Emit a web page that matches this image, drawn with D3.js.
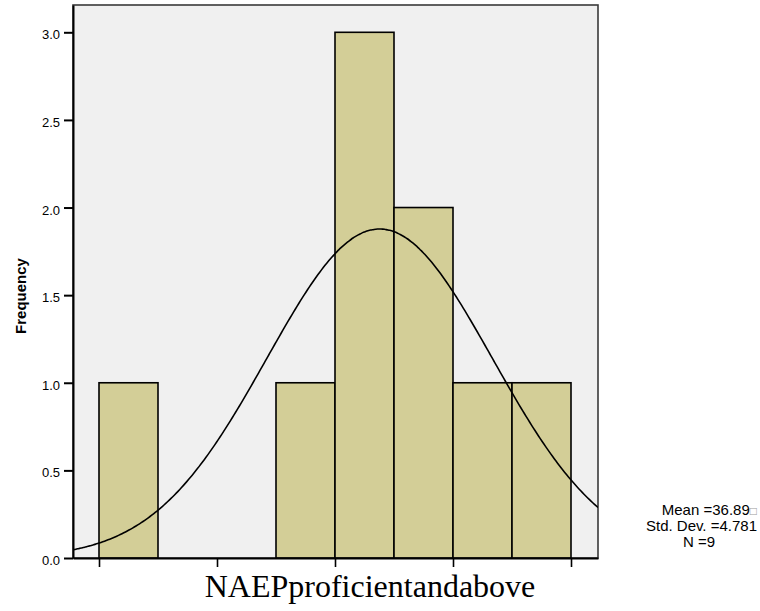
<!DOCTYPE html>
<html>
<head>
<meta charset="utf-8">
<script src="https://cdn.jsdelivr.net/npm/d3@7"></script>
<style>
  html, body { margin: 0; padding: 0; background: #ffffff; }
  svg { display: block; }
</style>
</head>
<body>
<svg id="chart" width="760" height="611"></svg>
<script>
// ---- data ----
const binEdges = [25, 27.5, 30, 32.5, 35, 37.5, 40, 42.5, 45];
const counts = [1, 0, 0, 1, 3, 2, 1, 1];
const yTicks = [0, 0.5, 1.0, 1.5, 2.0, 2.5, 3.0];
const xTicks = [25, 30, 35, 40, 45];
const statMean = 36.89;
const statSD = 4.781;
const statN = 9;
const legendLines = ["Mean =36.89", "Std. Dev. =4.781", "N =9"];
const xTitle = "NAEPproficientandabove";
const yTitle = "Frequency";

// ---- layout ----
const frame = { left: 73, right: 598, top: 5, bottom: 558 };
const svg = d3.select("#chart");

const x = d3.scaleLinear().domain([25, 45]).range([99, 571]);
const y = d3.scaleLinear().domain([0, 3]).range([558, 32.3]);
const xMin = x.invert(frame.left), xMax = x.invert(frame.right);
const yMax = y.invert(frame.top);

// background frame
svg.append("rect")
  .attr("x", frame.left).attr("y", frame.top)
  .attr("width", frame.right - frame.left).attr("height", frame.bottom - frame.top)
  .attr("fill", "#f0f0f0").attr("stroke", "#3a3a3a").attr("stroke-width", 1.6);

const defs = svg.append("defs");
defs.append("clipPath").attr("id", "clip").append("rect")
  .attr("x", frame.left).attr("y", frame.top)
  .attr("width", frame.right - frame.left).attr("height", frame.bottom - frame.top);

// bars
const bins = counts.map((c, i) => ({ x0: binEdges[i], x1: binEdges[i + 1], c }));
svg.append("g").selectAll("rect").data(bins.filter(d => d.c > 0)).join("rect")
  .attr("x", d => x(d.x0)).attr("y", d => y(d.c))
  .attr("width", d => x(d.x1) - x(d.x0)).attr("height", d => y(0) - y(d.c))
  .attr("fill", "#d3ce97").attr("stroke", "#000").attr("stroke-width", 1.6);

// normal curve
const binW = binEdges[1] - binEdges[0];
const pts = d3.range(0, 301).map(i => {
  const v = xMin + (xMax - xMin) * i / 300;
  const z = (v - statMean) / statSD;
  return [v, statN * binW * Math.exp(-0.5 * z * z) / (statSD * Math.sqrt(2 * Math.PI))];
});
svg.append("path").datum(pts)
  .attr("clip-path", "url(#clip)")
  .attr("fill", "none").attr("stroke", "#000").attr("stroke-width", 1.6)
  .attr("d", d3.line().x(d => x(d[0])).y(d => y(d[1])).curve(d3.curveBasis));

// y axis
const yAxisScale = y.copy().domain([0, yMax]).range([558, frame.top]);
const yAxis = svg.append("g").attr("transform", `translate(${frame.left},0)`)
  .call(d3.axisLeft(yAxisScale).tickValues(yTicks).tickFormat(d3.format(".1f"))
        .tickSize(9).tickSizeOuter(0).tickPadding(4));
yAxis.select(".domain").attr("stroke", "#000").attr("stroke-width", 2);
yAxis.selectAll(".tick line").attr("stroke", "#000").attr("stroke-width", 2);
yAxis.selectAll(".tick text").attr("font-family", "Arial, 'Liberation Sans', sans-serif")
  .attr("font-size", 13).attr("fill", "#000").attr("dy", "0.5em");

// x axis
const xAxisScale = x.copy().domain([xMin, xMax]).range([frame.left, frame.right]);
const xAxis = svg.append("g").attr("transform", `translate(0,${frame.bottom})`)
  .call(d3.axisBottom(xAxisScale).tickValues(xTicks).tickFormat("").tickSize(9).tickSizeOuter(0));
xAxis.select(".domain").attr("stroke", "#000").attr("stroke-width", 2);
xAxis.selectAll(".tick line").attr("stroke", "#000").attr("stroke-width", 1.6);

// titles
svg.append("text")
  .attr("transform", "translate(26,296) rotate(-90)")
  .attr("text-anchor", "middle")
  .attr("font-family", "Arial, 'Liberation Sans', sans-serif")
  .attr("font-weight", "bold").attr("font-size", 15).attr("fill", "#000")
  .text(yTitle);

svg.append("text")
  .attr("x", 370).attr("y", 597)
  .attr("text-anchor", "middle")
  .attr("font-family", "'Liberation Serif', 'Times New Roman', serif")
  .attr("font-size", 32).attr("fill", "#000")
  .text(xTitle);

// legend
const lg = svg.append("g").attr("font-family", "Arial, 'Liberation Sans', sans-serif")
  .attr("font-size", 15).attr("fill", "#000");
const legendPos = [
  { x: 757, y: 515, anchor: "end" },
  { x: 757, y: 531, anchor: "end" },
  { x: 699, y: 547, anchor: "middle" }
];
legendLines.forEach((t, i) => {
  const p = legendPos[i];
  const tx = lg.append("text").attr("x", p.x).attr("y", p.y).attr("text-anchor", p.anchor);
  tx.append("tspan").text(t);
  if (i === 0) tx.append("tspan").attr("fill", "#9a9a9a").attr("font-size", 12).text("\u25A1");
});
</script>
</body>
</html>
